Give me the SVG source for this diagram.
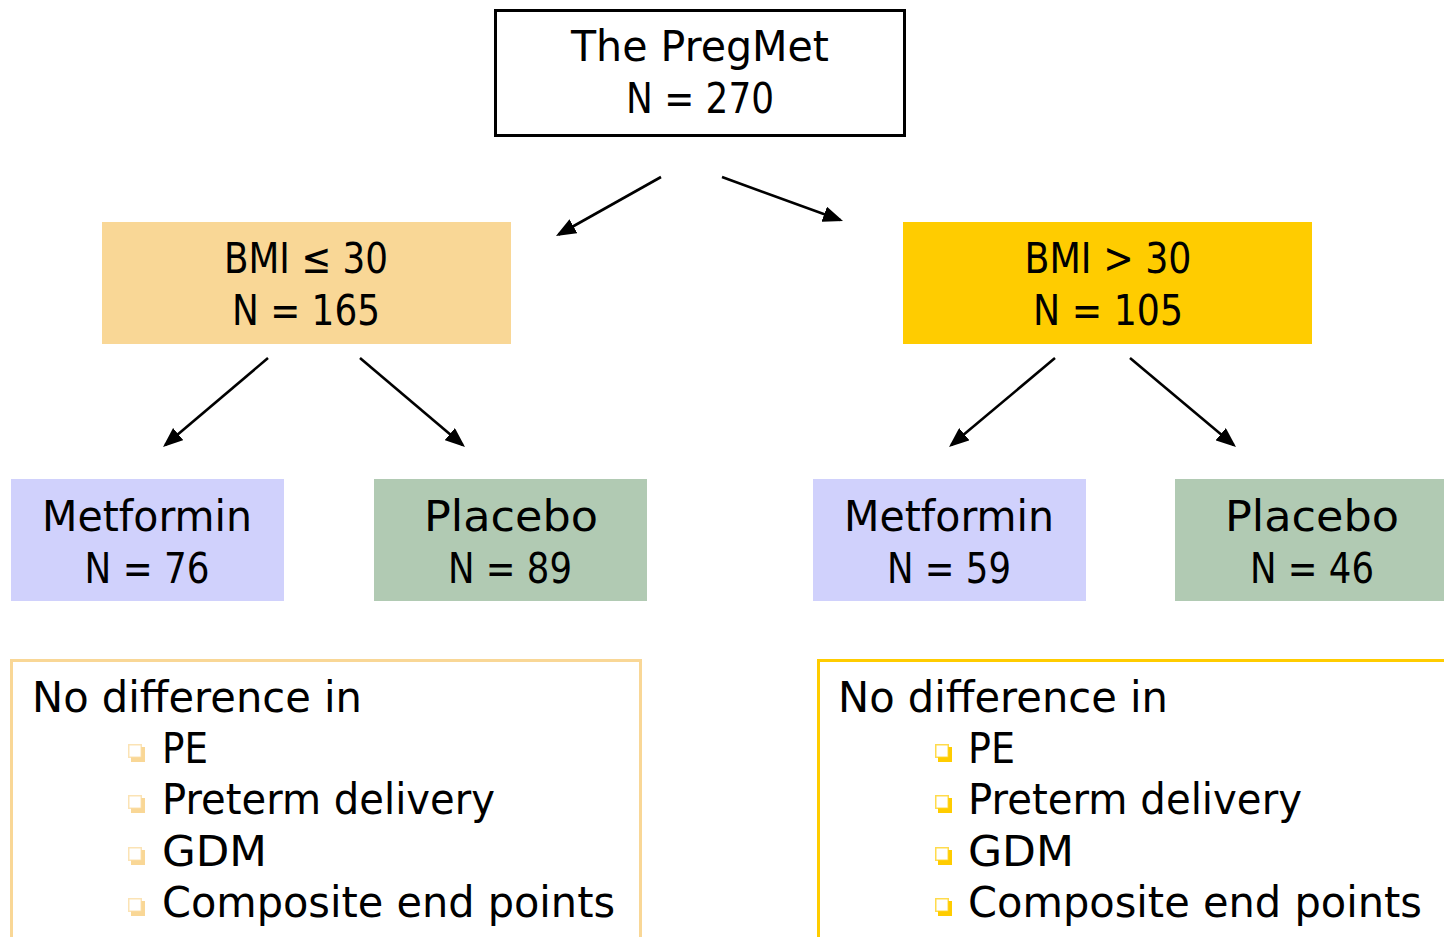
<svg xmlns="http://www.w3.org/2000/svg" width="1444" height="937" viewBox="0 0 1444 937">
  <style>
    text { font-family: "DejaVu Sans", "Liberation Sans", sans-serif; font-size: 42px; fill: #000; }
    .c { text-anchor: middle; }
    .conn line { stroke: #000; stroke-width: 2.6; marker-end: url(#head); }
  </style>
  <defs>
    <marker id="head" viewBox="0 0 20 16" refX="17" refY="8" markerWidth="20" markerHeight="16" markerUnits="userSpaceOnUse" orient="auto">
      <path d="M0,0 L20,8 L0,16 Z" fill="#000"/>
    </marker>
    <!-- hollow square bullet with a drop shadow; colour comes from currentColor -->
    <symbol id="bullet" viewBox="0 0 17 18" width="17" height="18" overflow="visible">
      <rect x="3" y="3" width="14" height="15" fill="currentColor"/>
      <rect x="0.75" y="0.75" width="12.5" height="12.5" fill="#fff" stroke="currentColor" stroke-width="1.5" stroke-opacity="0.7"/>
    </symbol>
  </defs>

  <rect width="1444" height="937" fill="#fff"/>

  <g id="root">
    <rect x="495.5" y="10.5" width="409" height="125" fill="#fff" stroke="#000" stroke-width="3"/>
    <text class="c" x="700" y="61" textLength="258" lengthAdjust="spacingAndGlyphs">The PregMet</text>
    <text class="c" x="700" y="113" textLength="148" lengthAdjust="spacingAndGlyphs">N = 270</text>
  </g>

  <g id="bmi-low">
    <rect x="102" y="222" width="409" height="122" fill="#F9D796"/>
    <text class="c" x="306" y="273" textLength="164" lengthAdjust="spacingAndGlyphs">BMI ≤ 30</text>
    <text class="c" x="306" y="325" textLength="148" lengthAdjust="spacingAndGlyphs">N = 165</text>
  </g>

  <g id="bmi-high">
    <rect x="903" y="222" width="409" height="122" fill="#FFCC00"/>
    <text class="c" x="1108" y="273" textLength="167" lengthAdjust="spacingAndGlyphs">BMI &gt; 30</text>
    <text class="c" x="1108" y="325" textLength="150" lengthAdjust="spacingAndGlyphs">N = 105</text>
  </g>

  <g id="metformin-low">
    <rect x="11" y="479" width="273" height="122" fill="#D0D1FC"/>
    <text class="c" x="147" y="531" textLength="210" lengthAdjust="spacingAndGlyphs">Metformin</text>
    <text class="c" x="147" y="583" textLength="125" lengthAdjust="spacingAndGlyphs">N = 76</text>
  </g>

  <g id="placebo-low">
    <rect x="374" y="479" width="273" height="122" fill="#B1CAB3"/>
    <text class="c" x="511" y="531" textLength="174" lengthAdjust="spacingAndGlyphs">Placebo</text>
    <text class="c" x="510" y="583" textLength="124" lengthAdjust="spacingAndGlyphs">N = 89</text>
  </g>

  <g id="metformin-high">
    <rect x="813" y="479" width="273" height="122" fill="#D0D1FC"/>
    <text class="c" x="949" y="531" textLength="210" lengthAdjust="spacingAndGlyphs">Metformin</text>
    <text class="c" x="949" y="583" textLength="124" lengthAdjust="spacingAndGlyphs">N = 59</text>
  </g>

  <g id="placebo-high">
    <rect x="1175" y="479" width="273" height="122" fill="#B1CAB3"/>
    <text class="c" x="1312" y="531" textLength="174" lengthAdjust="spacingAndGlyphs">Placebo</text>
    <text class="c" x="1312" y="583" textLength="124" lengthAdjust="spacingAndGlyphs">N = 46</text>
  </g>

  <g id="outcome-low">
    <rect x="11.5" y="660.5" width="629" height="320" fill="none" stroke="#F9D796" stroke-width="3"/>
    <text x="32" y="712" textLength="330" lengthAdjust="spacingAndGlyphs">No difference in</text>
    <use href="#bullet" x="128" y="744" style="color:#F9D796"/>
    <text x="162" y="763" textLength="46" lengthAdjust="spacingAndGlyphs">PE</text>
    <use href="#bullet" x="128" y="795" style="color:#F9D796"/>
    <text x="162" y="814" textLength="333" lengthAdjust="spacingAndGlyphs">Preterm delivery</text>
    <use href="#bullet" x="128" y="847" style="color:#F9D796"/>
    <text x="162" y="866" textLength="105" lengthAdjust="spacingAndGlyphs">GDM</text>
    <use href="#bullet" x="128" y="898" style="color:#F9D796"/>
    <text x="162" y="917" textLength="453" lengthAdjust="spacingAndGlyphs">Composite end points</text>
  </g>

  <g id="outcome-high">
    <rect x="818.5" y="660.5" width="700" height="320" fill="none" stroke="#FFCC00" stroke-width="3"/>
    <text x="838" y="712" textLength="330" lengthAdjust="spacingAndGlyphs">No difference in</text>
    <use href="#bullet" x="935" y="744" style="color:#FFCC00"/>
    <text x="968" y="763" textLength="47" lengthAdjust="spacingAndGlyphs">PE</text>
    <use href="#bullet" x="935" y="795" style="color:#FFCC00"/>
    <text x="968" y="814" textLength="334" lengthAdjust="spacingAndGlyphs">Preterm delivery</text>
    <use href="#bullet" x="935" y="847" style="color:#FFCC00"/>
    <text x="968" y="866" textLength="106" lengthAdjust="spacingAndGlyphs">GDM</text>
    <use href="#bullet" x="935" y="898" style="color:#FFCC00"/>
    <text x="968" y="917" textLength="454" lengthAdjust="spacingAndGlyphs">Composite end points</text>
  </g>

  <g id="connectors" class="conn">
    <line x1="661" y1="177" x2="558.6" y2="234.5"/>
    <line x1="722" y1="177" x2="840.2" y2="220"/>
    <line x1="268" y1="358" x2="165.3" y2="445.1"/>
    <line x1="360" y1="358" x2="462.7" y2="445.1"/>
    <line x1="1055" y1="358" x2="951.3" y2="445.1"/>
    <line x1="1130" y1="358" x2="1233.7" y2="445.1"/>
  </g>
</svg>
